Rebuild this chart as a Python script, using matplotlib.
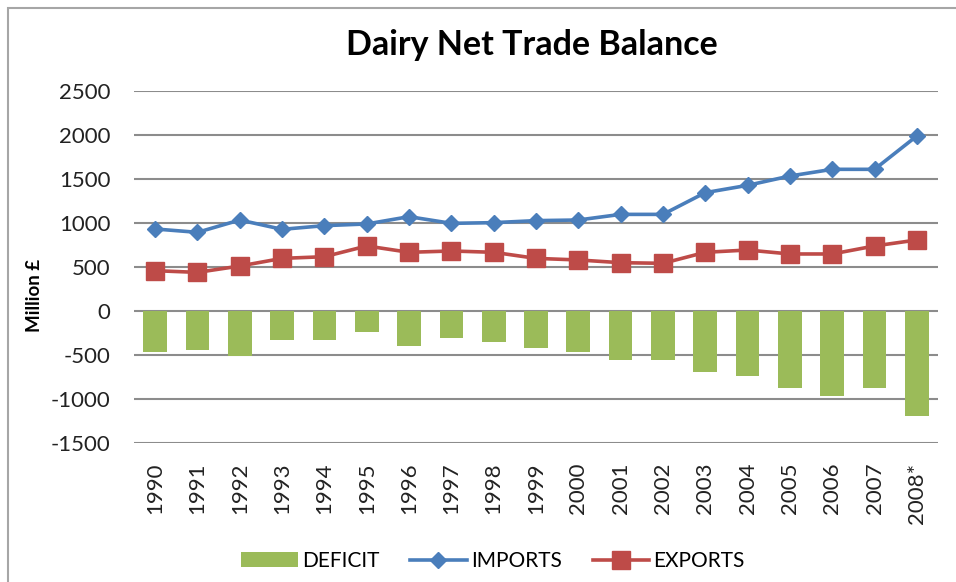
import numpy as np
import matplotlib
matplotlib.use('Agg')
from matplotlib import pyplot as plt
from matplotlib.patches import Rectangle

years = ['1990', '1991', '1992', '1993', '1994', '1995', '1996', '1997', '1998', '1999',
         '2000', '2001', '2002', '2003', '2004', '2005', '2006', '2007', '2008*']
imports = [932, 894, 1034, 928, 970, 989, 1072, 996, 1004, 1027,
           1034, 1098, 1098, 1345, 1428, 1534, 1610, 1610, 1989]
exports = [458, 439, 511, 598, 617, 739, 667, 682, 667, 598,
           580, 549, 542, 667, 693, 648, 648, 739, 807]
deficit = [-462, -443, -511, -330, -330, -239, -398, -307, -352, -420,
           -462, -557, -557, -693, -739, -875, -966, -875, -1193]

plt.rcParams['font.family'] = ['Lato', 'DejaVu Sans']
plt.rcParams['axes.unicode_minus'] = False

fig = plt.figure(figsize=(9.56, 5.82), dpi=100)
ax = fig.add_axes([134 / 956, 139 / 582, 804 / 956, 352 / 582])

x = np.arange(len(years))
bars = ax.bar(x, deficit, width=0.56, color='#9BBB59', label='DEFICIT', zorder=2)
line_imp, = ax.plot(x, imports, color='#4A7EBB', lw=2.6, marker='D', ms=8.5,
                    label='IMPORTS', zorder=3)
line_exp, = ax.plot(x, exports, color='#BE4B48', lw=2.6, marker='s', ms=13,
                    label='EXPORTS', zorder=3)

ax.set_xlim(-0.5, len(years) - 0.5)
ax.set_ylim(-1500, 2500)
ax.set_yticks(np.arange(-1500, 2501, 500))
ax.yaxis.grid(True, color='#8C8C8C', lw=1.5, zorder=0)
ax.set_axisbelow(True)
for s in ax.spines.values():
    s.set_visible(False)

ax.set_xticks(x)
ax.set_xticklabels(years, rotation=90, va='top')
ax.tick_params(axis='both', length=0, labelsize=16, colors='#222222')
ax.tick_params(axis='x', pad=14)
ax.tick_params(axis='y', pad=17)

fig.text(35 / 956, 1 - 295 / 582, 'Million £', rotation=90, fontsize=13.5,
         fontweight='bold', ha='center', va='center')
fig.text(532 / 956, 1 - 55 / 582, 'Dairy Net Trade Balance', fontsize=24.5,
         fontweight='bold', ha='center', va='baseline')

fig.legend([bars, line_imp, line_exp], ['DEFICIT', 'IMPORTS', 'EXPORTS'],
           loc='center', bbox_to_anchor=(493 / 956, 21 / 582), ncol=3,
           frameon=False, fontsize=15, handlelength=2.7, numpoints=1,
           columnspacing=1.5, handletextpad=0.2)

fig.patches.append(Rectangle((8 / 956, -0.1), 1.2, 1 - 8 / 582 + 0.1,
                             transform=fig.transFigure, fill=False,
                             edgecolor='#A6A6A6', lw=1.5))

fig.savefig('out.png', dpi=100)
